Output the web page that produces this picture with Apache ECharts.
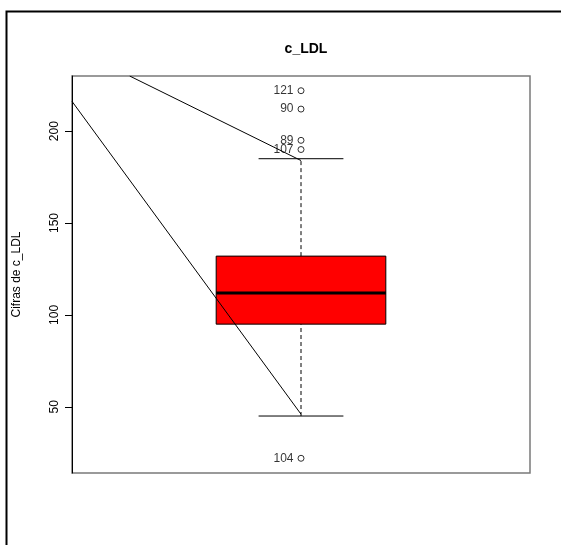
<!DOCTYPE html>
<html>
<head>
<meta charset="utf-8">
<script src="https://cdn.jsdelivr.net/npm/echarts@6/dist/echarts.min.js"></script>
<style>
  html, body { margin: 0; padding: 0; background: #ffffff; }
  #chart { width: 561px; height: 545px; }
</style>
</head>
<body>
<div id="chart"></div>
<script>
// Five-number summary of c_LDL: lower whisker, Q1, median, Q3, upper whisker
const boxStats = [45, 95, 112, 132, 185];
// Outlying observations and their row ids
const outlierIds = ['121', '90', '89', '107', '104'];
const outlierValues = [222, 212, 195, 190, 22];
// Y axis tick values
const yTicks = [50, 100, 150, 200];
// Two guide segments drawn over the plot (x in box units, y in mg/dL)
const guideA = [[0.596, 230], [1, 184]];
const guideB = [[0.46, 216.2], [1, 46]];

const FONT = 'Liberation Sans, Arial, Helvetica, sans-serif';
const chart = echarts.init(document.getElementById('chart'), null, { renderer: 'canvas' });

const outlierData = outlierValues.map((v, i) => ({ value: [1, v], name: outlierIds[i] }));

chart.setOption({
  animation: false,
  backgroundColor: '#ffffff',
  title: {
    text: 'c_LDL',
    left: 301,
    top: 37,
    textAlign: 'center',
    textStyle: { fontFamily: FONT, fontWeight: 'bold', fontSize: 14, color: '#000' }
  },
  grid: {
    left: 72, top: 76, width: 458, height: 397,
    show: true, borderColor: '#7a7a7a', borderWidth: 1.5, backgroundColor: 'transparent'
  },
  xAxis: {
    type: 'value', min: 0.46, max: 1.54,
    axisLine: { show: false }, axisTick: { show: false },
    axisLabel: { show: false }, splitLine: { show: false }
  },
  yAxis: {
    type: 'value', min: 14, max: 230,
    name: 'Cifras de c_LDL',
    nameLocation: 'middle', nameRotate: 90, nameGap: 49,
    nameTextStyle: { fontFamily: FONT, fontSize: 12, color: '#000' },
    axisLine: { show: true, lineStyle: { color: '#000', width: 1 } },
    axisTick: { show: true, length: 7, customValues: yTicks, lineStyle: { color: '#000' } },
    axisLabel: {
      customValues: yTicks, rotate: 90, margin: 11,
      fontFamily: FONT, fontSize: 12, color: '#000'
    },
    splitLine: { show: false }
  },
  graphic: [{
    type: 'rect',
    shape: { x: 6.5, y: 11.5, width: 580, height: 560 },
    style: { fill: 'none', stroke: '#000', lineWidth: 2 },
    silent: true, z: 100
  }],
  series: [
    {
      type: 'custom',
      coordinateSystem: 'cartesian2d',
      data: [[1].concat(boxStats)],
      encode: { x: 0, y: [1, 2, 3, 4, 5] },
      renderItem: function (params, api) {
        const x = api.value(0);
        const lo = api.value(1), q1 = api.value(2), med = api.value(3), q3 = api.value(4), hi = api.value(5);
        const halfBox = 0.2, halfCap = 0.1;
        const pLo = api.coord([x, lo]), pQ1 = api.coord([x, q1]), pMed = api.coord([x, med]);
        const pQ3 = api.coord([x, q3]), pHi = api.coord([x, hi]);
        const bl = api.coord([x - halfBox, q3]), br = api.coord([x + halfBox, q1]);
        const cl = api.coord([x - halfCap, lo])[0], cr = api.coord([x + halfCap, lo])[0];
        const ml = api.coord([x - halfBox, med])[0], mr = api.coord([x + halfBox, med])[0];
        const dash = { stroke: '#000', lineWidth: 1, lineDash: [4, 3] };
        const solid = { stroke: '#000', lineWidth: 1 };
        return {
          type: 'group',
          children: [
            { type: 'line', shape: { x1: pQ3[0], y1: pQ3[1], x2: pHi[0], y2: pHi[1] }, style: dash },
            { type: 'line', shape: { x1: pLo[0], y1: pLo[1], x2: pQ1[0], y2: pQ1[1] }, style: dash },
            { type: 'line', shape: { x1: cl, y1: pHi[1], x2: cr, y2: pHi[1] }, style: solid },
            { type: 'line', shape: { x1: cl, y1: pLo[1], x2: cr, y2: pLo[1] }, style: solid },
            { type: 'rect', shape: { x: bl[0], y: bl[1], width: br[0] - bl[0], height: br[1] - bl[1] },
              style: { fill: '#ff0000', stroke: '#000', lineWidth: 1 } },
            { type: 'line', shape: { x1: ml, y1: pMed[1], x2: mr, y2: pMed[1] }, style: { stroke: '#000', lineWidth: 3 } }
          ]
        };
      },
      z: 2
    },
    {
      type: 'scatter',
      data: outlierData,
      symbol: 'circle',
      symbolSize: 6,
      itemStyle: { color: '#fff', borderColor: '#000', borderWidth: 1 },
      label: {
        show: true, position: 'left', distance: 4,
        formatter: p => p.name,
        fontFamily: FONT, fontSize: 12, color: '#000'
      },
      z: 3
    },
    {
      type: 'line', data: guideA, showSymbol: false, symbol: 'none', clip: true,
      lineStyle: { color: '#000', width: 1 }, z: 4
    },
    {
      type: 'line', data: guideB, showSymbol: false, symbol: 'none', clip: true,
      lineStyle: { color: '#000', width: 1 }, z: 4
    }
  ]
});
</script>
</body>
</html>
